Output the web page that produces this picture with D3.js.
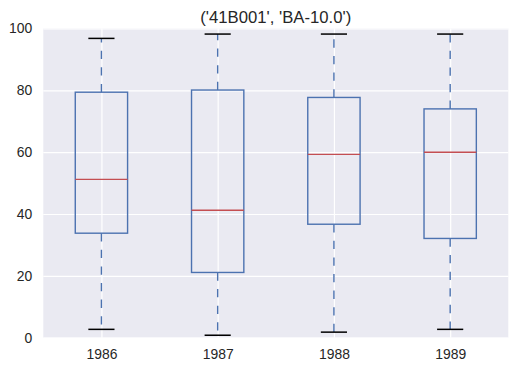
<!DOCTYPE html>
<html>
<head>
<meta charset="utf-8">
<script src="https://cdn.jsdelivr.net/npm/d3@7"></script>
<style>
  body { margin: 0; background: #fff; }
  text { font-family: "Liberation Sans", Arial, sans-serif; fill: #262626; }
</style>
</head>
<body>
<div id="chart"></div>
<script>
// box statistics per year
var years = ["1986", "1987", "1988", "1989"];
var whiskerLow = [2.7, 0.8, 1.8, 2.7];
var q1 = [33.8, 21.1, 36.7, 32.1];
var median = [51.2, 41.2, 59.3, 60.0];
var q3 = [79.4, 80.1, 77.7, 74.0];
var whiskerHigh = [96.8, 98.2, 98.2, 98.2];
var yTicks = [0, 20, 40, 60, 80, 100];
var title = "('41B001', 'BA-10.0')";

var width = 517, height = 372;
var plotLeft = 43.3, plotRight = 508.3, plotTop = 28.5, plotBottom = 337.7;

var svg = d3.select("#chart").append("svg")
    .attr("width", width)
    .attr("height", height);

var x = d3.scalePoint().domain(years).range([plotLeft, plotRight]).padding(0.5);
var y = d3.scaleLinear().domain([0, 100]).range([plotBottom, plotTop]);

var boxW = x.step() * 0.45;
var capW = boxW / 2;

// background
svg.append("rect")
    .attr("x", plotLeft).attr("y", plotTop)
    .attr("width", plotRight - plotLeft).attr("height", plotBottom - plotTop)
    .attr("fill", "#EAEAF2");

// grid lines
svg.append("g")
    .attr("transform", "translate(" + plotLeft + ",0)")
    .call(d3.axisLeft(y).tickValues(yTicks).tickSize(-(plotRight - plotLeft)).tickFormat(""))
    .call(g => g.select(".domain").remove())
    .call(g => g.selectAll("line").attr("stroke", "#fff").attr("stroke-width", 1.2));

svg.append("g")
    .attr("transform", "translate(0," + plotBottom + ")")
    .call(d3.axisBottom(x).tickSize(-(plotBottom - plotTop)).tickFormat(""))
    .call(g => g.select(".domain").remove())
    .call(g => g.selectAll("line").attr("stroke", "#fff").attr("stroke-width", 1.2));

// tick labels
svg.append("g")
    .attr("transform", "translate(" + plotLeft + ",0)")
    .call(d3.axisLeft(y).tickValues(yTicks).tickSize(0).tickPadding(11))
    .call(g => g.select(".domain").remove())
    .call(g => g.selectAll("text").attr("font-size", "13.9px").attr("font-family", null).attr("fill", "#262626"));

svg.append("g")
    .attr("transform", "translate(0," + plotBottom + ")")
    .call(d3.axisBottom(x).tickSize(0).tickPadding(11))
    .call(g => g.select(".domain").remove())
    .call(g => g.selectAll("text").attr("font-size", "13.9px").attr("font-family", null).attr("fill", "#262626"));

var boxes = svg.append("g").selectAll("g")
    .data(years)
    .enter().append("g");

// whiskers
boxes.append("line")
    .attr("x1", d => x(d)).attr("x2", d => x(d))
    .attr("y1", (d, i) => y(q1[i])).attr("y2", (d, i) => y(whiskerLow[i]))
    .attr("stroke", "#4C72B0").attr("stroke-width", 1.4)
    .attr("stroke-dasharray", "8.3,8.3");
boxes.append("line")
    .attr("x1", d => x(d)).attr("x2", d => x(d))
    .attr("y1", (d, i) => y(q3[i])).attr("y2", (d, i) => y(whiskerHigh[i]))
    .attr("stroke", "#4C72B0").attr("stroke-width", 1.4)
    .attr("stroke-dasharray", "8.3,8.3");

// caps
boxes.append("line")
    .attr("x1", d => x(d) - capW / 2).attr("x2", d => x(d) + capW / 2)
    .attr("y1", (d, i) => y(whiskerLow[i])).attr("y2", (d, i) => y(whiskerLow[i]))
    .attr("stroke", "#000").attr("stroke-width", 1.5);
boxes.append("line")
    .attr("x1", d => x(d) - capW / 2).attr("x2", d => x(d) + capW / 2)
    .attr("y1", (d, i) => y(whiskerHigh[i])).attr("y2", (d, i) => y(whiskerHigh[i]))
    .attr("stroke", "#000").attr("stroke-width", 1.5);

// box
boxes.append("rect")
    .attr("x", d => x(d) - boxW / 2)
    .attr("y", (d, i) => y(q3[i]))
    .attr("width", boxW)
    .attr("height", (d, i) => y(q1[i]) - y(q3[i]))
    .attr("fill", "none")
    .attr("stroke", "#4C72B0").attr("stroke-width", 1.4);

// median
boxes.append("line")
    .attr("x1", d => x(d) - boxW / 2).attr("x2", d => x(d) + boxW / 2)
    .attr("y1", (d, i) => y(median[i])).attr("y2", (d, i) => y(median[i]))
    .attr("stroke", "#C44E52").attr("stroke-width", 1.4);

// title
svg.append("text")
    .attr("x", (plotLeft + plotRight) / 2)
    .attr("y", 22.6)
    .attr("text-anchor", "middle")
    .attr("font-size", "16.7px")
    .text(title);
</script>
</body>
</html>
